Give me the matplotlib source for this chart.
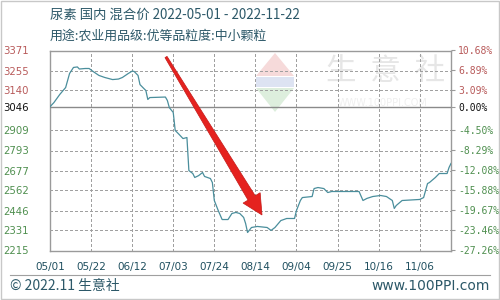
import matplotlib
matplotlib.use("Agg")
import matplotlib.pyplot as plt
from matplotlib.patches import Polygon, Rectangle
from matplotlib.lines import Line2D
import pandas as pd
import math

plt.rcParams['font.family'] = ['Noto Sans CJK SC', 'DejaVu Sans']

title = "尿素 国内 混合价 2022-05-01 - 2022-11-22"
subtitle = "用途:农业用品级:优等品粒度:中小颗粒"
footer_left = "© 2022.11 生意社"
footer_right = "www.100PPI.com"

dates = ["2022-05-01", "2022-05-03", "2022-05-06", "2022-05-09", "2022-05-11", "2022-05-13",
         "2022-05-15", "2022-05-16", "2022-05-19", "2022-05-21", "2022-05-23", "2022-05-26",
         "2022-05-29", "2022-06-02", "2022-06-05", "2022-06-07", "2022-06-10", "2022-06-12",
         "2022-06-13", "2022-06-15", "2022-06-16", "2022-06-18", "2022-06-19", "2022-06-20",
         "2022-06-21", "2022-06-29", "2022-06-30", "2022-07-01", "2022-07-03", "2022-07-04",
         "2022-07-06", "2022-07-08", "2022-07-10", "2022-07-11", "2022-07-13", "2022-07-14",
         "2022-07-16", "2022-07-18", "2022-07-19", "2022-07-22", "2022-07-23", "2022-07-24",
         "2022-07-26", "2022-07-28", "2022-07-31", "2022-08-02", "2022-08-04", "2022-08-06",
         "2022-08-08", "2022-08-09", "2022-08-10", "2022-08-12", "2022-08-15", "2022-08-20",
         "2022-08-22", "2022-08-24", "2022-08-27", "2022-08-30", "2022-09-03", "2022-09-04",
         "2022-09-06", "2022-09-07", "2022-09-12", "2022-09-13", "2022-09-15", "2022-09-18",
         "2022-09-20", "2022-09-22", "2022-10-06", "2022-10-08", "2022-10-10", "2022-10-13",
         "2022-10-17", "2022-10-20", "2022-10-23", "2022-10-24", "2022-10-25", "2022-10-28",
         "2022-11-06", "2022-11-08", "2022-11-10", "2022-11-11", "2022-11-14", "2022-11-16",
         "2022-11-20", "2022-11-21", "2022-11-22"]
prices = [3046, 3070, 3117, 3157, 3238, 3273,
          3276, 3264, 3267, 3267, 3250, 3227,
          3215, 3203, 3206, 3215, 3238, 3252,
          3250, 3227, 3174, 3151, 3140, 3088,
          3099, 3102, 3082, 3041, 3013, 2909,
          2886, 2862, 2868, 2677, 2660, 2637,
          2648, 2666, 2643, 2631, 2608, 2504,
          2446, 2394, 2394, 2429, 2435, 2429,
          2406, 2371, 2319, 2348, 2354, 2348,
          2331, 2348, 2388, 2400, 2400, 2446,
          2504, 2521, 2527, 2573, 2579, 2573,
          2550, 2556, 2556, 2504, 2516, 2527,
          2533, 2527, 2504, 2458, 2475, 2504,
          2510, 2521, 2602, 2608, 2637, 2660,
          2660, 2695, 2718]

base_price = 3046
left_labels = ["3371", "3255", "3140", "3046", "2909", "2793", "2677", "2562", "2446", "2331", "2215"]
right_labels = ["10.68%", "6.89%", "3.09%", "0.00%", "-4.50%", "-8.29%", "-12.08%",
                "-15.88%", "-19.67%", "-23.46%", "-27.26%"]
x_ticks = ["2022-05-01", "2022-05-22", "2022-06-12", "2022-07-03", "2022-07-24",
           "2022-08-14", "2022-09-04", "2022-09-25", "2022-10-16", "2022-11-06"]
x_start, x_end = "2022-05-01", "2022-11-22"

W, H = 500, 300
fig = plt.figure(figsize=(5, 3), dpi=100)
fig.patch.set_facecolor("white")

def fx(px):
    return px / W

def fy(py):
    return 1 - py / H

ax = fig.add_axes([fx(50), fy(250.5), fx(451) - fx(50), fy(50.5) - fy(250.5)])
ax.patch.set_facecolor("none")

d = pd.to_datetime(dates)
ax.plot(d, prices, color="#4a8e9c", lw=0.9, zorder=5)

ymax = float(left_labels[0])
ymin = float(left_labels[-1])
ax.set_ylim(ymin, ymax)
ax.set_xlim(pd.Timestamp(x_start), pd.Timestamp(x_end))

grid_c = "#a0a0a0"
grid_ls = (0, (1.5, 1.5))

lpos = [float(v) for v in left_labels]
ax.set_yticks(lpos)
ax.set_yticklabels(left_labels)
pos_c, neg_c, zero_c = "#b85a5a", "#4f8f4f", "#111111"
for lab, v in zip(ax.get_yticklabels(), lpos):
    lab.set_color(pos_c if v > base_price else (neg_c if v < base_price else zero_c))
    lab.set_fontsize(7.3)
    lab.set_family(["DejaVu Sans"])
ax.tick_params(axis="y", length=0, pad=15)

grid_y = [v for v in lpos if v != base_price and v not in (ymin, ymax)]
hl = ax.hlines(grid_y, pd.Timestamp(x_start), pd.Timestamp(x_end), colors=grid_c, lw=1.0,
               linestyles=[grid_ls], zorder=3)
ax.axhline(base_price, color="#8a8a8a", lw=1.0, zorder=3)

xt = pd.to_datetime(x_ticks)
ax.set_xticks(xt)
ax.set_xticklabels([t.strftime("%m/%d") for t in xt])
for lab in ax.get_xticklabels():
    lab.set_color("#1f4f5f")
    lab.set_fontsize(7.5)
    lab.set_family(["DejaVu Sans"])
ax.tick_params(axis="x", length=0, pad=8)
vl = ax.vlines(xt[1:], ymin, ymax, colors=grid_c, lw=1.0, linestyles=[grid_ls], zorder=3)
for g in (hl, vl):
    g.set_snap(True)
    g.set_antialiased(False)

for s in ax.spines.values():
    s.set_color("#9a9a9a")
    s.set_linewidth(1.0)

ax2 = ax.twinx()
ax2.patch.set_visible(False)
ax2.set_ylim(ymin, ymax)
rvals = [base_price * (1 + float(p.strip('%')) / 100) for p in right_labels]
ax2.set_yticks(rvals)
ax2.set_yticklabels(right_labels)
for lab, p in zip(ax2.get_yticklabels(), right_labels):
    pv = float(p.strip('%'))
    lab.set_color(pos_c if pv > 0 else (neg_c if pv < 0 else zero_c))
    lab.set_fontsize(7)
    lab.set_family(["DejaVu Sans Mono"])
ax2.tick_params(axis="y", length=3, color="#9a9a9a", pad=2)
for s in ax2.spines.values():
    s.set_visible(False)

# watermark
wm = []
wm.append(Polygon([(fx(256), fy(76)), (fx(275), fy(53)), (fx(294), fy(76))], closed=True,
                  facecolor="#f6dada", edgecolor="none", transform=fig.transFigure, zorder=-1))
wm.append(Rectangle((fx(256), fy(87)), fx(294) - fx(256), fy(77) - fy(87),
                    facecolor="#dde3f2", edgecolor="none", transform=fig.transFigure, zorder=-1))
wm.append(Polygon([(fx(256), fy(88)), (fx(294), fy(88)), (fx(275), fy(112))], closed=True,
                  facecolor="#ddeedd", edgecolor="none", transform=fig.transFigure, zorder=-1))
for p in wm:
    fig.patches.append(p)
fig.text(fx(386), fy(72), "生  意  社", fontsize=22, color="#e6e6e6", ha="center", va="center", zorder=-1)
fig.text(fx(383), fy(103), "WWW.100PPI.COM", fontsize=7, color="#efefef", ha="center", va="center",
         family=["DejaVu Sans"], zorder=-1)

# titles
fig.text(fx(50), fy(15), title, fontsize=9.6, color="#2c5868", ha="left", va="center")
fig.text(fx(50), fy(36), subtitle, fontsize=9.3, color="#2c5868", ha="left", va="center")

# red arrow
x0, y0 = 166, 57
x1, y1 = 262, 215
dx, dy = x1 - x0, y1 - y0
L = math.hypot(dx, dy)
ux, uy = dx / L, dy / L
nx, ny = -uy, ux
head_len, head_w = 20, 10
w0, w1 = 1.2, 4.2
bx, by = x1 - ux * head_len, y1 - uy * head_len
pts = [(x0 + nx * w0, y0 + ny * w0), (bx + nx * w1, by + ny * w1), (bx + nx * head_w, by + ny * head_w),
       (x1, y1), (bx - nx * head_w, by - ny * head_w), (bx - nx * w1, by - ny * w1),
       (x0 - nx * w0, y0 - ny * w0)]
arrow = Polygon([(fx(px), fy(py)) for px, py in pts], closed=True, facecolor="#e5221f",
                edgecolor="#c41a18", lw=0.5, transform=fig.transFigure, zorder=10)
fig.patches.append(arrow)

# footer
fig.add_artist(Line2D([fx(10), fx(490)], [fy(275), fy(275)], color="#a0a0a0", lw=0.8,
                      transform=fig.transFigure))
fig.text(fx(10), fy(286), footer_left, fontsize=10, color="#2c5868", ha="left", va="center")
fig.text(fx(490), fy(286), footer_right, fontsize=10, color="#2c5868", ha="right", va="center",
         family=["DejaVu Sans"])

# outer frame
fig.patches.append(Rectangle((0.001, 0.002), 0.997, 0.995, fill=False, edgecolor="#c8c8c8", lw=1.0,
                             transform=fig.transFigure))

fig.savefig("out.png", dpi=100)
